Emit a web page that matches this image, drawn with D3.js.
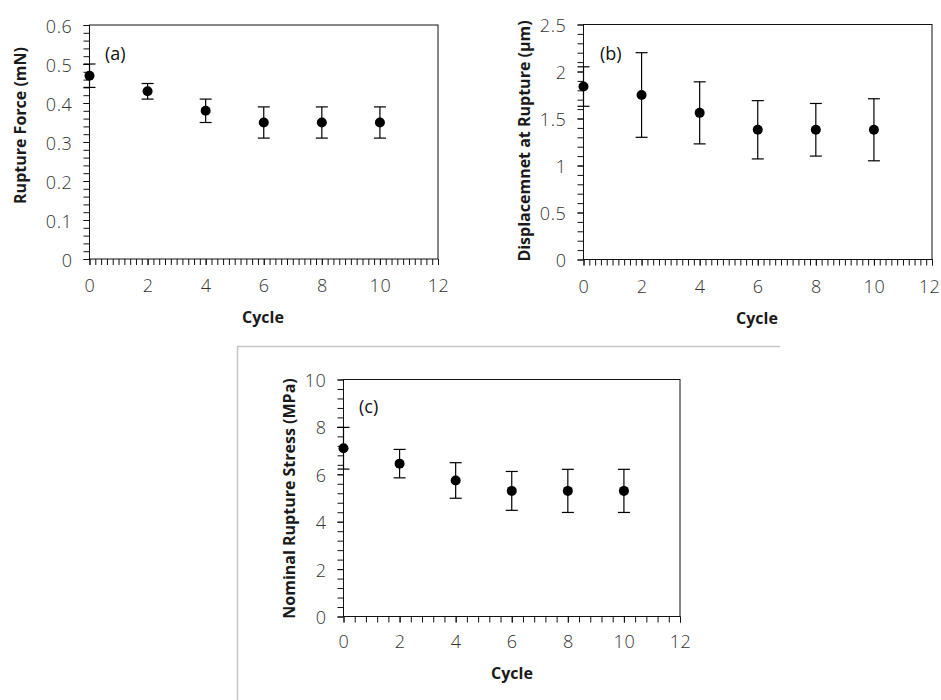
<!DOCTYPE html>
<html>
<head>
<meta charset="utf-8">
<script src="https://cdn.jsdelivr.net/npm/d3@7"></script>
<style>
  html, body { margin: 0; padding: 0; background: #fff; }
  svg { display: block; }
  .tick text { font-family: "Open Sans", "Noto Sans", sans-serif; font-weight: 300; font-size: 18px; letter-spacing: 0.6px; fill: #333; }
  .tick line { stroke: #111; stroke-width: 1; }
</style>
</head>
<body>
<svg id="chart" width="941" height="700"></svg>
<script>
// ---- Data ----
const cycles = [0, 2, 4, 6, 8, 10];

const forceMean = [0.47, 0.43, 0.38, 0.35, 0.35, 0.35];
const forceErr  = [0.03, 0.02, 0.03, 0.04, 0.04, 0.04];

const dispMean = [1.84, 1.75, 1.56, 1.38, 1.38, 1.38];
const dispErr  = [0.21, 0.45, 0.33, 0.31, 0.28, 0.33];

const stressMean = [7.1, 6.45, 5.74, 5.3, 5.3, 5.3];
const stressErr  = [0.88, 0.6, 0.75, 0.82, 0.91, 0.91];

const xTickValues = [0, 2, 4, 6, 8, 10, 12];
const yTicksA = [0, 0.1, 0.2, 0.3, 0.4, 0.5, 0.6];
const yTicksB = [0, 0.5, 1, 1.5, 2, 2.5];
const yTicksC = [0, 2, 4, 6, 8, 10];

const yTitleA = "Rupture Force (mN)";
const yTitleB = "Displacemnet at Rupture (\u03bcm)";
const yTitleC = "Nominal Rupture Stress (MPa)";
const xTitle = "Cycle";

// ---- Layout ----
const svg = d3.select("#chart");

// light gray frame around panel (c)
svg.append("path")
  .attr("d", "M237.5,700 L237.5,346.5 L780,346.5")
  .attr("fill", "none").attr("stroke", "#c6c6c6").attr("stroke-width", 1.5);

const panels = [
  { box: {l: 89.5, t: 25, r: 438, b: 259}, ymax: 0.6, yTicks: yTicksA, yMinor: 0.02, xMinor: 0.2,
    mean: forceMean, err: forceErr, yTitle: yTitleA, yTitlePos: [20, 125.5], xTitlePos: [263, 317],
    label: "(a)", labelPos: [105, 53] },
  { box: {l: 583.5, t: 24.5, r: 932, b: 259.5}, ymax: 2.5, yTicks: yTicksB, yMinor: 0.1, xMinor: 0.2,
    mean: dispMean, err: dispErr, yTitle: yTitleB, yTitlePos: [524, 141], xTitlePos: [757, 318],
    label: "(b)", labelPos: [600, 53] },
  { box: {l: 343.5, t: 379.5, r: 680, b: 616.5}, ymax: 10, yTicks: yTicksC, yMinor: 0.4, xMinor: 0.4,
    mean: stressMean, err: stressErr, yTitle: yTitleC, yTitlePos: [289, 498.5], xTitlePos: [512, 673],
    label: "(c)", labelPos: [359, 406] }
];

panels.forEach(p => {
  const x = d3.scaleLinear().domain([0, 12]).range([p.box.l, p.box.r]);
  const y = d3.scaleLinear().domain([0, p.ymax]).range([p.box.b, p.box.t]);
  const g = svg.append("g");

  // minor ticks
  const yMinorVals = d3.range(0, p.ymax + 1e-9, p.yMinor).map(v => +v.toFixed(4));
  const xMinorVals = d3.range(0, 12 + 1e-9, p.xMinor).map(v => +v.toFixed(4));

  g.append("g").attr("transform", `translate(${p.box.l},0)`)
    .call(d3.axisLeft(y).tickValues(yMinorVals).tickSize(6).tickFormat(""))
    .call(s => s.select(".domain").remove());
  g.append("g").attr("transform", `translate(0,${p.box.b})`)
    .call(d3.axisBottom(x).tickValues(xMinorVals).tickSize(6).tickFormat(""))
    .call(s => s.select(".domain").remove());

  // major ticks with labels
  g.append("g").attr("transform", `translate(${p.box.l},0)`)
    .call(d3.axisLeft(y).tickValues(p.yTicks).tickSize(6).tickPadding(11).tickFormat(d3.format("")))
    .call(s => s.select(".domain").remove())
    .call(s => s.selectAll("text").attr("dy", null).attr("dominant-baseline", "central"));
  g.append("g").attr("transform", `translate(0,${p.box.b})`)
    .call(d3.axisBottom(x).tickValues(xTickValues).tickSize(6).tickFormat(d3.format("")))
    .call(s => s.select(".domain").remove())
    .call(s => s.selectAll("text").attr("y", p.xTitlePos[1] - p.box.b - 32).attr("dy", null).attr("dominant-baseline", "central"))
    .call(s => s.selectAll("text").each(function(d) {
      // keep the label inside the page (the rightmost "12" sits at the edge)
      const bb = this.getBBox();
      const absRight = p.box.l + (x(d) - p.box.l) + bb.x + bb.width;
      if (absRight > 940) d3.select(this).attr("x", 940 - absRight);
    }));

  // frame
  g.append("rect")
    .attr("x", p.box.l).attr("y", p.box.t)
    .attr("width", p.box.r - p.box.l).attr("height", p.box.b - p.box.t)
    .attr("fill", "none").attr("stroke", "#111").attr("stroke-width", 1);

  // error bars
  const eb = g.append("g").attr("stroke", "#000").attr("stroke-width", 1.2);
  cycles.forEach((c, i) => {
    const cx = x(c), lo = y(p.mean[i] - p.err[i]), hi = y(p.mean[i] + p.err[i]);
    eb.append("line").attr("x1", cx).attr("x2", cx).attr("y1", lo).attr("y2", hi);
    eb.append("line").attr("x1", cx - 6).attr("x2", cx + 6).attr("y1", lo).attr("y2", lo);
    eb.append("line").attr("x1", cx - 6).attr("x2", cx + 6).attr("y1", hi).attr("y2", hi);
  });

  // points
  g.selectAll("circle.pt").data(cycles).enter().append("circle")
    .attr("class", "pt")
    .attr("cx", d => x(d)).attr("cy", (d, i) => y(p.mean[i])).attr("r", 5)
    .attr("fill", "#000");

  // panel label
  g.append("text").text(p.label)
    .attr("x", p.labelPos[0]).attr("y", p.labelPos[1])
    .attr("dominant-baseline", "central")
    .attr("font-family", "'Open Sans', 'Noto Sans', sans-serif").attr("font-size", 18)
    .attr("fill", "#111");

  // titles
  g.append("text").text(xTitle)
    .attr("x", p.xTitlePos[0]).attr("y", p.xTitlePos[1])
    .attr("text-anchor", "middle").attr("dominant-baseline", "central")
    .attr("font-family", "'Open Sans', 'Noto Sans', sans-serif").attr("font-weight", 700)
    .attr("font-size", 16).attr("fill", "#1a1a1a");
  g.append("text").text(p.yTitle)
    .attr("transform", `translate(${p.yTitlePos[0]},${p.yTitlePos[1]}) rotate(-90)`)
    .attr("text-anchor", "middle").attr("dominant-baseline", "central")
    .attr("font-family", "'Open Sans', 'Noto Sans', sans-serif").attr("font-weight", 700)
    .attr("font-size", 16).attr("fill", "#1a1a1a");
});
</script>
</body>
</html>
